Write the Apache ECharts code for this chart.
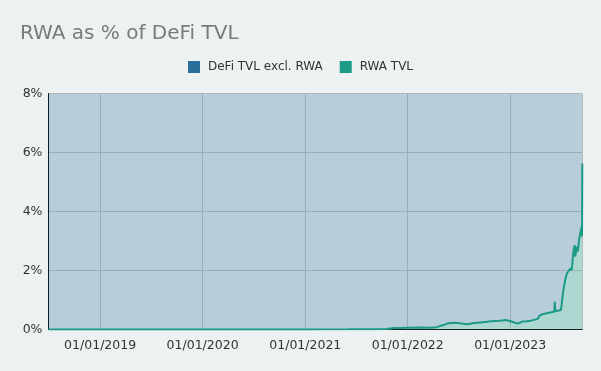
<!DOCTYPE html>
<html>
<head>
<meta charset="utf-8">
<script src="https://cdn.jsdelivr.net/npm/echarts@6/dist/echarts.min.js"></script>
<style>
html,body{margin:0;padding:0;background:#edf1f2;}
#c{width:601px;height:371px;}
</style>
</head>
<body>
<div id="c"></div>
<script>
const titleText = 'RWA as % of DeFi TVL';
const seriesNames = ['DeFi TVL excl. RWA', 'RWA TVL'];
const yTicks = [0, 2, 4, 6, 8];

// RWA TVL as % of DeFi TVL
const dates = [
  '2018-07-01','2019-01-01','2019-07-01','2020-01-01','2020-07-01','2021-01-01','2021-06-01',
  '2021-09-01','2021-10-18','2021-11-15','2021-12-10','2022-01-01','2022-02-15','2022-03-20',
  '2022-04-14','2022-05-08','2022-05-21','2022-06-05','2022-06-19','2022-07-05','2022-08-01',
  '2022-08-20','2022-09-17','2022-10-10','2022-11-04','2022-11-25','2022-12-16','2023-01-03',
  '2023-01-27','2023-02-15','2023-03-01','2023-03-16','2023-04-09','2023-04-15','2023-04-27',
  '2023-05-15','2023-06-07','2023-06-09','2023-06-11','2023-07-01','2023-07-09','2023-07-16',
  '2023-07-22','2023-08-03','2023-08-08','2023-08-15','2023-08-19','2023-08-21','2023-08-26',
  '2023-08-30','2023-09-04','2023-09-08','2023-09-10','2023-09-13','2023-09-14','2023-09-15'
];
const rwaPct = [
  0, 0, 0, 0, 0.002, 0.004, 0.006,
  0.01, 0.02, 0.05, 0.05, 0.06, 0.07, 0.06,
  0.08, 0.15, 0.2, 0.22, 0.23, 0.21, 0.18,
  0.21, 0.24, 0.26, 0.29, 0.3, 0.32, 0.28,
  0.2, 0.27, 0.28, 0.3, 0.36, 0.46, 0.52,
  0.56, 0.6, 0.94, 0.62, 0.66, 1.3, 1.68,
  1.9, 2.07, 2.0, 2.69, 2.86, 2.47, 2.8,
  2.64, 3.09, 3.26, 3.37, 3.48, 3.15, 5.63
];
// remaining share of DeFi TVL
const defiPct = rwaPct.map(v => 100 - v);

const xMin = '2018-07-01';
const xMax = '2023-09-15';

function pad(n){ return (n < 10 ? '0' : '') + n; }

const chart = echarts.init(document.getElementById('c'));
chart.setOption({
  backgroundColor: '#edf1f2',
  animation: false,
  textStyle: { fontFamily: 'DejaVu Sans' },
  title: {
    text: titleText,
    left: 15,
    top: 19,
    textStyle: { fontFamily: 'DejaVu Sans', fontSize: 20, fontWeight: 'normal', color: '#7a7a7a' }
  },
  legend: {
    data: seriesNames,
    left: 'center',
    top: 56,
    itemWidth: 12,
    itemHeight: 12,
    itemGap: 17,
    icon: 'rect',
    textStyle: { fontFamily: 'DejaVu Sans', fontSize: 12, color: '#333', padding: [0, 0, 0, 3] }
  },
  grid: { left: 48.5, right: 18.7, top: 93.5, bottom: 41.5, containLabel: false },
  xAxis: {
    type: 'time',
    min: xMin,
    max: xMax,
    splitNumber: 5,
    axisLine: { lineStyle: { color: '#111', width: 1 } },
    axisTick: { show: false },
    axisLabel: {
      color: '#333',
      fontSize: 12.5,
      fontFamily: 'DejaVu Sans',
      margin: 10,
      showMinLabel: false,
      showMaxLabel: false,
      formatter: function (v) {
        const d = new Date(v);
        return pad(d.getDate()) + '/' + pad(d.getMonth() + 1) + '/' + d.getFullYear();
      }
    },
    splitLine: { show: true, lineStyle: { color: '#c4c4c4', width: 1 } }
  },
  yAxis: {
    type: 'value',
    min: yTicks[0],
    max: yTicks[yTicks.length - 1],
    interval: 2,
    axisLine: { show: true, lineStyle: { color: '#111', width: 1 } },
    axisTick: { show: false },
    axisLabel: { color: '#333', fontSize: 12.5, fontFamily: 'DejaVu Sans', margin: 6, formatter: '{value}%' },
    splitLine: { show: true, lineStyle: { color: '#c4c4c4', width: 1 } }
  },
  series: [
    {
      name: seriesNames[1],
      type: 'line',
      stack: 'total',
      showSymbol: false,
      color: '#1b9a86',
      lineStyle: { width: 2, color: '#1b9a86' },
      areaStyle: { color: '#1b9a86', opacity: 0.3 },
      data: dates.map((d, i) => [d, rwaPct[i]])
    },
    {
      name: seriesNames[0],
      type: 'line',
      stack: 'total',
      showSymbol: false,
      color: '#2a6f9b',
      lineStyle: { width: 0 },
      areaStyle: { color: '#2a6f9b', opacity: 0.28 },
      data: dates.map((d, i) => [d, defiPct[i]])
    }
  ]
});
</script>
</body>
</html>
